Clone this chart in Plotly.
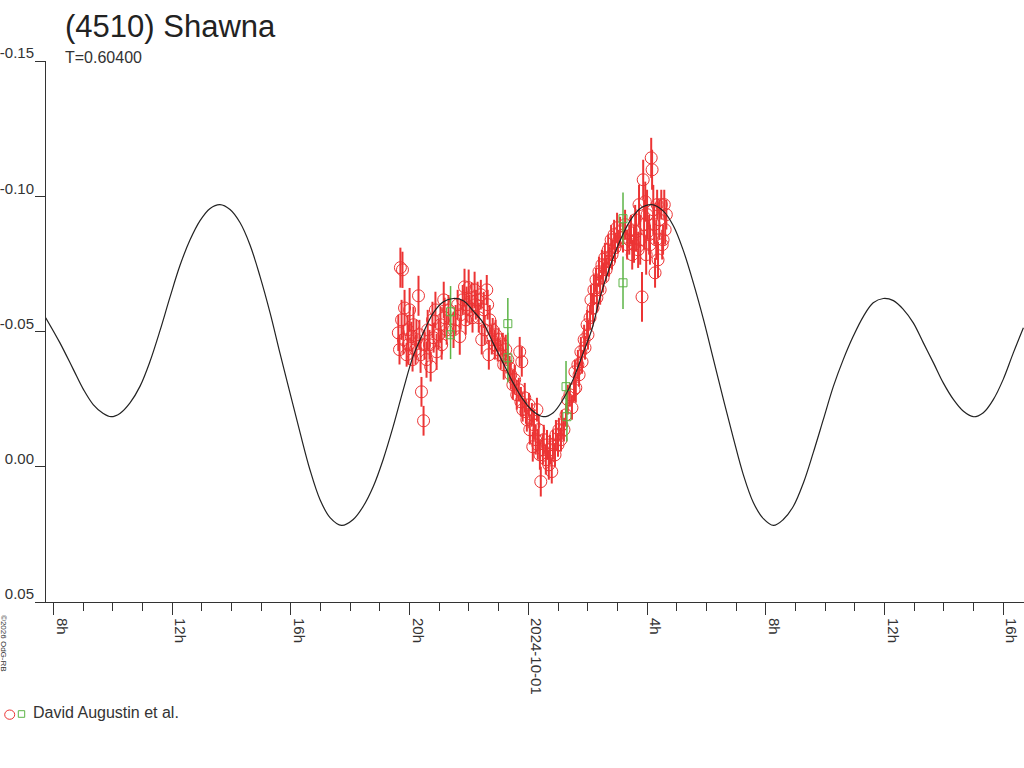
import plotly.graph_objects as go

# time in hours relative to 2024-10-01 00:00 UT, magnitudes (axis is inverted)
red_hours = [
    -4.38, -4.34, -4.31, -4.24, -4.27, -4.21, -4.17, -4.10, -4.07, -4.04,
    -4.00, -3.94, -3.90, -3.87, -3.80, -3.77, -3.70, -3.67, -3.63, -3.60,
    -3.53, -3.50, -3.43, -3.39, -3.33, -3.29, -3.23, -3.19, -3.13, -3.09,
    -3.02, -2.96, -2.92, -2.85, -2.82, -2.75, -2.69, -2.52, -2.45, -2.38,
    -2.31, -2.28, -2.21, -2.15, -2.11, -2.08, -2.01, -1.98, -1.91, -1.88,
    -1.81, -1.77, -1.71, -1.67, -1.60, -1.57, -1.50, -1.47, -1.40, -1.37,
    -1.33, -1.30, -1.23, -1.20, -1.13, -1.10, -1.03, -1.00, -0.93, -0.86,
    -0.83, -0.76, -0.69, -0.63, -0.59, -0.52, -0.46, -0.39, -0.32, -0.29,
    -0.25, -0.22, -0.19, -0.12, -0.08, -0.05, 0.02, 0.05, 0.12, 0.15,
    0.19, 0.25, 0.29, 0.32, 0.35, 0.39, 0.42, 0.49, 0.52, 0.59,
    0.63, 0.69, 0.73, 0.79, 0.83, 0.90, 0.93, 1.00, 1.03, 1.10,
    1.13, 1.20, 1.27, 1.33, 1.40, 1.47, 1.54, 1.57, 1.60, 1.67,
    1.71, 1.77, 1.81, 1.88, 1.91, 1.98, 2.01, 2.08, 2.11, 2.18,
    2.21, 2.28, 2.31, 2.38, 2.42, 2.48, 2.52, 2.58, 2.62, 2.69,
    2.72, 2.79, 2.82, 2.89, 2.92, 2.99, 3.02, 3.09, 3.19, 3.26,
    3.33, 3.40, 3.46, 3.50, 3.56, 3.60, 3.63, 3.70, 3.73, 3.77,
    3.83, 3.87, 3.90, 3.94, 3.97, 4.00, 4.07, 4.10, 4.14, 4.17,
    4.21, 4.24, 4.27, 4.31, 4.34, 4.37, 4.41, 4.48, 4.51, 4.54,
    4.58, 4.61, 4.65,
]
red_mag = [
    -0.0495, -0.0433, -0.0736, -0.0728, -0.0543, -0.0470, -0.0587, -0.0414, -0.0506, -0.0451,
    -0.0580, -0.0481, -0.0396, -0.0525, -0.0433, -0.0470, -0.0632, -0.0488, -0.0414, -0.0277,
    -0.0170, -0.0451, -0.0396, -0.0506, -0.0451, -0.0370, -0.0543, -0.0477, -0.0580, -0.0425,
    -0.0488, -0.0525, -0.0451, -0.0617, -0.0551, -0.0506, -0.0580, -0.0506, -0.0543, -0.0599,
    -0.0481, -0.0562, -0.0617, -0.0665, -0.0543, -0.0599, -0.0662, -0.0580, -0.0625, -0.0551,
    -0.0654, -0.0599, -0.0617, -0.0551, -0.0636, -0.0470, -0.0580, -0.0506, -0.0654, -0.0599,
    -0.0414, -0.0543, -0.0470, -0.0506, -0.0451, -0.0488, -0.0433, -0.0470, -0.0414, -0.0451,
    -0.0377, -0.0433, -0.0396, -0.0366, -0.0340, -0.0303, -0.0322, -0.0266, -0.0285, -0.0425,
    -0.0240, -0.0388, -0.0211, -0.0255, -0.0203, -0.0174, -0.0229, -0.0137, -0.0192, -0.0074,
    -0.0155, -0.0100, -0.0211, -0.0081, -0.0137, -0.0044, 0.0055, -0.0063, -0.0100, -0.0026,
    -0.0081, -0.0007, -0.0063, 0.0018, -0.0081, -0.0044, -0.0118, -0.0081, -0.0137, -0.0100,
    -0.0155, -0.0137, -0.0192, -0.0248, -0.0266, -0.0218, -0.0285, -0.0351, -0.0292, -0.0377,
    -0.0340, -0.0425, -0.0388, -0.0470, -0.0440, -0.0525, -0.0488, -0.0551, -0.0617, -0.0587,
    -0.0654, -0.0691, -0.0625, -0.0721, -0.0654, -0.0747, -0.0699, -0.0773, -0.0728, -0.0802,
    -0.0758, -0.0839, -0.0784, -0.0858, -0.0810, -0.0884, -0.0832, -0.0869, -0.0847, -0.0895,
    -0.0821, -0.0839, -0.0876, -0.0784, -0.0821, -0.0913, -0.0869, -0.0802, -0.0969, -0.0839,
    -0.0628, -0.1061, -0.0895, -0.0980, -0.0784, -0.0932, -0.0858, -0.0821, -0.1142, -0.1098,
    -0.0950, -0.0895, -0.0717, -0.0839, -0.0969, -0.0765, -0.0913, -0.0969, -0.0821, -0.0839,
    -0.0969, -0.0876, -0.0932,
]
red_err = [
    0.0067, 0.0055, 0.0074, 0.0067, 0.0074, 0.0055, 0.0067, 0.0044, 0.0055, 0.0074,
    0.0081, 0.0055, 0.0044, 0.0067, 0.0055, 0.0074, 0.0074, 0.0055, 0.0067, 0.0055,
    0.0055, 0.0055, 0.0067, 0.0074, 0.0055, 0.0055, 0.0067, 0.0055, 0.0067, 0.0067,
    0.0055, 0.0067, 0.0055, 0.0067, 0.0074, 0.0055, 0.0055, 0.0067, 0.0055, 0.0055,
    0.0067, 0.0055, 0.0055, 0.0067, 0.0055, 0.0067, 0.0067, 0.0055, 0.0055, 0.0055,
    0.0067, 0.0055, 0.0067, 0.0055, 0.0055, 0.0055, 0.0067, 0.0055, 0.0055, 0.0055,
    0.0055, 0.0055, 0.0055, 0.0044, 0.0055, 0.0055, 0.0044, 0.0044, 0.0055, 0.0044,
    0.0055, 0.0055, 0.0055, 0.0044, 0.0055, 0.0055, 0.0055, 0.0055, 0.0044, 0.0055,
    0.0055, 0.0055, 0.0044, 0.0055, 0.0044, 0.0044, 0.0044, 0.0055, 0.0044, 0.0055,
    0.0055, 0.0055, 0.0044, 0.0055, 0.0055, 0.0055, 0.0055, 0.0055, 0.0055, 0.0055,
    0.0055, 0.0055, 0.0055, 0.0044, 0.0055, 0.0044, 0.0055, 0.0044, 0.0044, 0.0044,
    0.0055, 0.0044, 0.0044, 0.0055, 0.0044, 0.0044, 0.0044, 0.0044, 0.0055, 0.0055,
    0.0044, 0.0055, 0.0044, 0.0055, 0.0044, 0.0055, 0.0055, 0.0044, 0.0055, 0.0055,
    0.0055, 0.0044, 0.0055, 0.0055, 0.0055, 0.0055, 0.0055, 0.0055, 0.0044, 0.0055,
    0.0055, 0.0055, 0.0055, 0.0055, 0.0055, 0.0055, 0.0044, 0.0055, 0.0055, 0.0055,
    0.0055, 0.0055, 0.0055, 0.0055, 0.0067, 0.0055, 0.0074, 0.0067, 0.0074, 0.0092,
    0.0092, 0.0074, 0.0092, 0.0074, 0.0074, 0.0092, 0.0074, 0.0074, 0.0074, 0.0074,
    0.0092, 0.0074, 0.0055, 0.0074, 0.0055, 0.0067, 0.0074, 0.0055, 0.0055, 0.0055,
    0.0055, 0.0055, 0.0055,
]

green_hours = [-2.62, -2.62, -0.69, -0.69, 1.27, 1.30, 3.19, 3.19]
green_mag = [-0.0573, -0.0488, -0.0529, -0.0403, -0.0296, -0.0185, -0.0917, -0.0680]
green_err = [0.0095, 0.0090, 0.0095, 0.0092, 0.0095, 0.0092, 0.0097, 0.0097]

# fitted lightcurve
fit_hours = [
    -16.26, -15.78, -15.33, -14.99, -14.66, -14.32, -14.06, -13.76, -13.42, -13.08,
    -12.75, -12.41, -12.07, -11.74, -11.40, -11.06, -10.72, -10.39, -10.05, -9.71,
    -9.38, -9.04, -8.70, -8.37, -8.03, -7.69, -7.36, -7.02, -6.68, -6.29,
    -5.90, -5.56, -5.22, -4.89, -4.55, -4.21, -3.88, -3.54, -3.20, -2.86,
    -2.53, -2.19, -1.85, -1.52, -1.19, -0.85, -0.51, -0.18, 0.16, 0.50,
    0.84, 1.17, 1.51, 1.85, 2.15, 2.42, 2.76, 3.10, 3.43, 3.77,
    4.16, 4.55, 4.89, 5.22, 5.56, 5.90, 6.23, 6.57, 6.91, 7.24,
    7.58, 7.92, 8.26, 8.59, 8.93, 9.27, 9.60, 9.94, 10.28, 10.61,
    10.95, 11.29, 11.62, 11.96, 12.30, 12.64, 12.97, 13.31, 13.65, 13.98,
    14.32, 14.66, 14.99, 15.33, 15.67, 16.00, 16.34, 16.68,
]
fit_mag = [
    -0.0551, -0.0458, -0.0360, -0.0286, -0.0230, -0.0197, -0.0185, -0.0197, -0.0236, -0.0298,
    -0.0388, -0.0503, -0.0628, -0.0743, -0.0838, -0.0910, -0.0955, -0.0969, -0.0951, -0.0902,
    -0.0821, -0.0704, -0.0569, -0.0421, -0.0273, -0.0126, 0.0010, 0.0121, 0.0188, 0.0217,
    0.0195, 0.0146, 0.0072, -0.0027, -0.0150, -0.0286, -0.0409, -0.0495, -0.0569, -0.0610,
    -0.0622, -0.0614, -0.0575, -0.0532, -0.0458, -0.0384, -0.0310, -0.0249, -0.0205, -0.0185,
    -0.0200, -0.0249, -0.0323, -0.0421, -0.0511, -0.0628, -0.0743, -0.0838, -0.0910, -0.0955,
    -0.0969, -0.0945, -0.0890, -0.0800, -0.0680, -0.0545, -0.0400, -0.0250, -0.0105, 0.0028,
    0.0132, 0.0192, 0.0217, 0.0195, 0.0146, 0.0059, -0.0052, -0.0175, -0.0298, -0.0396,
    -0.0483, -0.0556, -0.0606, -0.0622, -0.0614, -0.0581, -0.0532, -0.0458, -0.0384, -0.0310,
    -0.0249, -0.0205, -0.0185, -0.0200, -0.0249, -0.0323, -0.0421, -0.0514,
]

x_tick_vals = [-16, -12, -8, -4, 0, 4, 8, 12, 16]
x_tick_text = ["8h", "12h", "16h", "20h", "2024-10-01", "4h", "8h", "12h", "16h"]
y_tick_vals = [-0.15, -0.10, -0.05, 0.00, 0.05]
y_tick_text = ["-0.15", "-0.10", "-0.05", "0.00", "0.05"]

RED = "rgb(236,52,52)"
GREEN = "rgb(92,180,70)"
FONT = "Liberation Sans, Arial, sans-serif"

fig = go.Figure()

fig.add_trace(go.Scatter(
    x=red_hours, y=red_mag, mode="markers",
    marker=dict(symbol="circle-open", size=12, color=RED, line=dict(width=1)),
    error_y=dict(type="data", array=red_err, color=RED, thickness=2, width=0),
    showlegend=False,
))
fig.add_trace(go.Scatter(
    x=green_hours, y=green_mag, mode="markers",
    marker=dict(symbol="square-open", size=8, color=GREEN, line=dict(width=1)),
    error_y=dict(type="data", array=green_err, color=GREEN, thickness=1.5, width=0),
    showlegend=False,
))
fig.add_trace(go.Scatter(
    x=fit_hours, y=fit_mag, mode="lines",
    line=dict(color="#222222", width=1.2, shape="spline", smoothing=1.0),
    showlegend=False,
))

fig.update_layout(
    width=1024, height=768,
    margin=dict(l=46, r=0, t=61, b=166),
    paper_bgcolor="white", plot_bgcolor="white",
    font=dict(family=FONT, color="#333333"),
    title=dict(text="(4510) Shawna", x=65 / 1024, xanchor="left", xref="container",
               y=1 - 26 / 768, yanchor="middle",
               font=dict(family=FONT, size=31, color="#222222")),
)

fig.update_xaxes(
    range=[-16.25, 16.70], automargin=False,
    tickmode="array", tickvals=x_tick_vals, ticktext=x_tick_text,
    tickangle=90, ticks="outside", ticklen=12, tickcolor="#333333",
    ticklabelshift=8, ticklabelstandoff=0,
    tickfont=dict(family=FONT, size=15, color="#333333"),
    minor=dict(tickmode="linear", tick0=0, dtick=1, ticks="outside",
               ticklen=8, tickcolor="#333333", showgrid=False),
    showline=True, linecolor="#333333", linewidth=1,
    showgrid=False, zeroline=False,
)
fig.update_yaxes(
    range=[0.05, -0.15], automargin=False,
    tickmode="array", tickvals=y_tick_vals, ticktext=y_tick_text,
    ticks="outside", ticklen=10, tickcolor="#333333",
    ticklabelposition="outside top", ticklabelstandoff=8, ticklabelshift=-3,
    tickfont=dict(family=FONT, size=15, color="#333333"),
    showline=True, linecolor="#333333", linewidth=1,
    showgrid=False, zeroline=False,
)

# period label under the title
fig.add_annotation(text="T=0.60400", xref="paper", yref="paper",
                   x=(63 - 46) / 978, y=(602 - 58) / 541,
                   xanchor="left", yanchor="middle", showarrow=False,
                   font=dict(family=FONT, size=16, color="#333333"))

# observer legend, bottom left
fig.add_shape(type="circle", xref="paper", yref="paper",
              x0=(4.7 - 46) / 978, x1=(14.7 - 46) / 978,
              y0=(602 - 719.3) / 541, y1=(602 - 710) / 541,
              line=dict(color=RED, width=1))
fig.add_shape(type="rect", xref="paper", yref="paper",
              x0=(18.3 - 46) / 978, x1=(24.7 - 46) / 978,
              y0=(602 - 717.3) / 541, y1=(602 - 710.7) / 541,
              line=dict(color=GREEN, width=1))
fig.add_annotation(text="David Augustin et al.", xref="paper", yref="paper",
                   x=(31 - 46) / 978, y=(602 - 712) / 541,
                   xanchor="left", yanchor="middle", showarrow=False,
                   font=dict(family=FONT, size=16, color="#333333"))

# small copyright mark, vertical
fig.add_annotation(text="©2026 OdG-RB", xref="paper", yref="paper",
                   x=(4 - 46) / 978, y=(602 - 643) / 541,
                   xanchor="center", yanchor="middle",
                   textangle=90, showarrow=False,
                   font=dict(family=FONT, size=8, color="#333333"))

# drop the browser's default 8px body margin so the figure sits at the page corner
fig.write_html("out.html", config={"displayModeBar": False},
               post_script="document.body.style.margin = '0';")
